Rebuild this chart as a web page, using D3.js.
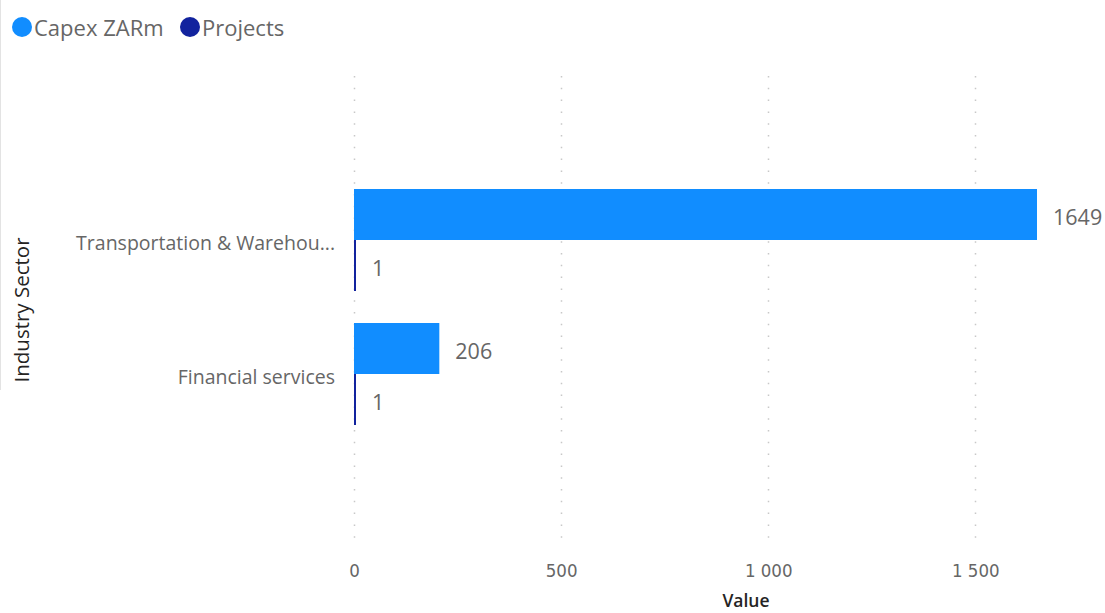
<!DOCTYPE html>
<html>
<head>
<meta charset="utf-8">
<script src="https://cdn.jsdelivr.net/npm/d3@7"></script>
<style>
  body { margin: 0; background: #fff; }
  svg { display: block; font-family: "Open Sans", "Noto Sans", sans-serif; }
</style>
</head>
<body>
<svg id="chart" width="1105" height="613"></svg>
<script>
// Capex and project counts per industry sector
const categories = ["Transportation & Warehou...", "Financial services"];
const seriesNames = ["Capex ZARm", "Projects"];
const capexValues = [1649, 206];
const projectValues = [1, 1];
const xTicks = [0, 500, 1000, 1500];
const seriesColors = ["#118DFF", "#12239E"];

const rows = categories.map((c, i) => ({ cat: c, vals: [capexValues[i], projectValues[i]] }));

const svg = d3.select("#chart");
const left = 354, right = 1037;
const x = d3.scaleLinear().domain([0, 1649]).range([left, right]);

const y0 = d3.scaleBand().domain(categories).range([173, 441])
  .paddingInner(0.2388).paddingOuter(0.1194);
const y1 = d3.scaleBand().domain(seriesNames).range([0, y0.bandwidth()]);

// left panel border
svg.append("line").attr("x1", 0.5).attr("x2", 0.5).attr("y1", 0).attr("y2", 390)
  .attr("stroke", "#e3e3e3").attr("stroke-width", 1);

// dotted gridlines
svg.append("g").selectAll("line").data(xTicks).join("line")
  .attr("x1", d => Math.round(x(d)) + 0.5).attr("x2", d => Math.round(x(d)) + 0.5)
  .attr("y1", 76).attr("y2", 546)
  .attr("stroke", "#c8c8c8").attr("stroke-width", 1.5)
  .attr("stroke-dasharray", "1.5,10.3");

// x axis tick labels
const fmt = d => d3.format(",")(d).replace(/,/g, " ");
const xAxis = d3.axisBottom(x).tickValues(xTicks).tickFormat(fmt).tickSize(0).tickPadding(0);
const gx = svg.append("g").attr("transform", "translate(0,564)").call(xAxis);
gx.select(".domain").remove();
gx.selectAll("text").attr("fill", "#666666")
  .style("font-family", "'DejaVu Sans', sans-serif").style("font-stretch", "condensed")
  .attr("font-size", 18.5).attr("dy", "0.71em");

svg.append("text").attr("x", 746).attr("y", 607).attr("text-anchor", "middle")
  .attr("font-size", 17.5).attr("font-weight", 600).attr("fill", "#252423")
  .style("font-family", "'Open Sans', sans-serif")
  .text("Value");

// category labels
svg.append("g").selectAll("text").data(categories).join("text")
  .attr("x", 335).attr("y", d => y0(d) + y0.bandwidth() / 2 + 3)
  .attr("dy", "0.35em").attr("text-anchor", "end")
  .attr("font-size", 19.5).attr("fill", "#666666").text(d => d);

svg.append("text").attr("transform", "translate(29,310) rotate(-90)")
  .attr("text-anchor", "middle").attr("font-size", 20.5).attr("fill", "#252423")
  .text("Industry Sector");

// bars
const groups = svg.append("g").selectAll("g").data(rows).join("g")
  .attr("transform", d => `translate(0,${y0(d.cat)})`);

groups.selectAll("rect").data(d => d.vals.map((v, i) => ({ v, s: seriesNames[i], i })))
  .join("rect")
  .attr("x", x(0))
  .attr("y", d => y1(d.s))
  .attr("width", d => Math.max(x(d.v) - x(0), 2))
  .attr("height", y1.bandwidth())
  .attr("fill", d => seriesColors[d.i]);

groups.selectAll("text").data(d => d.vals.map((v, i) => ({ v, s: seriesNames[i], i })))
  .join("text")
  .attr("x", d => Math.max(x(d.v), x(0) + 2) + 16)
  .attr("y", d => y1(d.s) + y1.bandwidth() / 2 + 3)
  .attr("dy", "0.35em")
  .attr("font-size", 21.5).attr("fill", "#666666")
  .text(d => d.v);

// legend
const legend = svg.append("g");
const items = [{ name: seriesNames[0], cx: 22, tx: 34 }, { name: seriesNames[1], cx: 190, tx: 202 }];
items.forEach((it, i) => {
  legend.append("circle").attr("cx", it.cx).attr("cy", 27).attr("r", 10).attr("fill", seriesColors[i]);
  legend.append("text").attr("x", it.tx).attr("y", 28).attr("dy", "0.35em")
    .attr("font-size", 22).attr("fill", "#666666").text(it.name);
});
</script>
</body>
</html>
